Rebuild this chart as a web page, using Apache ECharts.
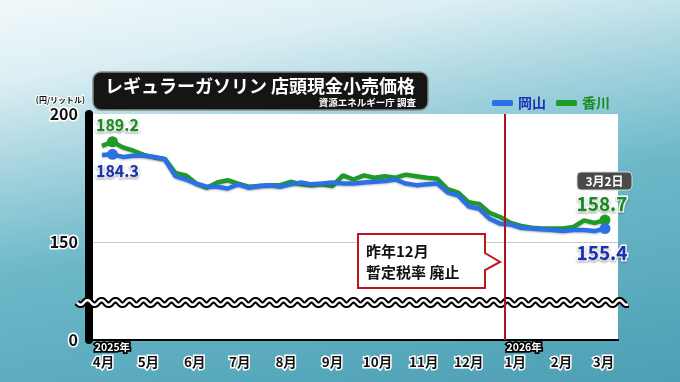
<!DOCTYPE html>
<html><head><meta charset="utf-8">
<script src="https://cdn.jsdelivr.net/npm/echarts@6/dist/echarts.min.js"></script>
<style>
html,body{margin:0;padding:0;}
#c{width:680px;height:382px;background:linear-gradient(170deg,#f1f8fa 0%,#dceff4 16%,#a6d4df 34%,#6cb8c9 55%,#4d9fb4 100%);}
</style></head><body><div id="c"></div>
<script>
const FONT = '"Noto Sans CJK JP","Noto Sans",sans-serif';

// weekly survey dates (資源エネルギー庁)
const weekDates = ['2025-03-31','2025-04-07','2025-04-14','2025-04-21','2025-04-28','2025-05-05','2025-05-12','2025-05-19','2025-05-26',
 '2025-06-02','2025-06-09','2025-06-16','2025-06-23','2025-06-30','2025-07-07','2025-07-14','2025-07-21','2025-07-28',
 '2025-08-04','2025-08-11','2025-08-18','2025-08-25','2025-09-01','2025-09-08','2025-09-15','2025-09-22','2025-09-29',
 '2025-10-06','2025-10-13','2025-10-20','2025-10-27','2025-11-03','2025-11-10','2025-11-17','2025-11-24',
 '2025-12-01','2025-12-08','2025-12-15','2025-12-22','2025-12-29','2026-01-05','2026-01-12','2026-01-19','2026-01-26',
 '2026-02-02','2026-02-09','2026-02-16','2026-02-23','2026-03-02'];
// 岡山 (yen / litre)
const okayama = [184.0,184.3,183.3,183.7,183.7,183.3,182.4,175.8,174.5,
 172.9,171.7,171.7,171.0,172.6,171.3,172.0,172.3,171.7,
 172.6,173.3,172.6,172.9,173.3,172.9,172.9,173.3,173.6,
 173.9,174.5,172.9,172.3,172.6,172.9,169.4,168.2,
 164.0,163.1,159.2,157.3,157.0,155.7,155.4,155.1,154.8,
 154.4,154.8,154.8,154.4,155.4];
// 香川 (yen / litre)
const kagawa = [187.6,189.2,187.0,185.7,184.1,183.1,182.5,177.1,176.1,
 172.9,171.3,173.3,174.2,172.9,171.7,172.0,172.3,172.3,
 173.6,172.6,172.3,172.6,172.0,176.1,174.5,176.1,175.2,
 175.8,175.2,176.4,175.8,175.2,174.8,170.7,169.4,
 165.6,165.0,161.5,159.9,157.6,156.4,155.7,155.4,155.4,
 155.4,156.0,158.6,157.6,158.7];
const seriesNames = ['岡山','香川'];
const labeledIdx = [1, 48];           // points marked with a dot and value
const monthStarts = ['2025-04-01','2025-05-01','2025-06-01','2025-07-01','2025-08-01','2025-09-01','2025-10-01','2025-11-01','2025-12-01','2026-01-01','2026-02-01','2026-03-01'];
const monthLabels = ['4月','5月','6月','7月','8月','9月','10月','11月','12月','1月','2月','3月'];
const yearLabels = [['2025-04-01','2025年'],['2026-01-01','2026年']];
const yTicks = [150, 200];
const yFloor = 112;                    // bottom of broken axis, labelled 0
const abolitionDate = '2025-12-25';
const calloutLines = ['昨年12月','暫定税率 廃止'];
const latestLabel = '3月2日';
const titleText = 'レギュラーガソリン 店頭現金小売価格';
const sourceText = '資源エネルギー庁 調査';
const unitText = '(円/リットル)';

const base = Date.UTC(2025,2,31);
function dayOf(s){const p=s.split('-').map(Number);return (Date.UTC(p[0],p[1]-1,p[2])-base)/86400000;}
const monthOffsets = monthStarts.map(dayOf);

const BLUE='#2c70e6', GREEN='#1f9a27', BLUE_T='#1c30b8', GREEN_T='#1a8c1f';

function build(vals, color, tcolor, pos){
  return vals.map((v,i)=>{
    const it={value:[dayOf(weekDates[i]), v]};
    const k=labeledIdx.indexOf(i);
    if(k>=0){
      it.symbol='circle'; it.symbolSize=11;
      it.label={show:true, position:pos, distance:k===0?3:(pos==='top'?1:9),
        offset:k===0?[5,0]:[-3,0],
        formatter:p=>p.value[1].toFixed(1),
        color:tcolor, fontFamily:FONT, fontWeight:'bold', fontSize:k===0?16:19,
        textBorderColor:'#fff', textBorderWidth:3,
        textShadowColor:'rgba(0,0,0,0.3)', textShadowBlur:2, textShadowOffsetY:1};
    }
    return it;
  });
}

const chart = echarts.init(document.getElementById('c'), null, {renderer:'canvas'});
const txt = {fontFamily:FONT, fontWeight:'bold'};

const wave=[];
for(let x=77;x<=628;x+=1){wave.push([x,302.5+2.4*Math.sin((x-77)/14*2*Math.PI)]);}

chart.setOption({
  backgroundColor:'transparent',
  animation:false,
  grid:{left:93,right:62,top:114,bottom:42,show:true,backgroundColor:'#fff',borderWidth:0},
  legend:{top:91,left:487,itemWidth:21,itemHeight:6,itemGap:10,icon:'roundRect',
    data:[{name:seriesNames[0],textStyle:{color:BLUE_T}},{name:seriesNames[1],textStyle:{color:GREEN_T}}],
    textStyle:Object.assign({fontSize:14},txt)},
  xAxis:{type:'value',min:-6,max:344.7,
    axisLine:{show:true,onZero:false,lineStyle:{color:'#000',width:2}},
    axisTick:{show:false},splitLine:{show:false},
    axisLabel:{customValues:monthOffsets,margin:15,
      formatter:v=>monthLabels[monthOffsets.indexOf(v)]||'',
      color:'#111',fontSize:13.5,fontFamily:FONT,fontWeight:'bold',textBorderColor:'#fff',textBorderWidth:3}},
  yAxis:{type:'value',min:yFloor,max:200,offset:4,
    name:unitText,nameLocation:'end',nameGap:14,
    nameTextStyle:{align:'right',verticalAlign:'middle',padding:[0,4,0,0],fontSize:8,color:'#111',fontFamily:FONT,fontWeight:'bold',textBorderColor:'#fff',textBorderWidth:2},
    axisLine:{show:true,onZero:false,lineStyle:{color:'#000',width:8,cap:'round'}},
    axisTick:{show:false},splitLine:{show:false},
    axisLabel:{customValues:[yFloor].concat(yTicks),margin:11,
      formatter:v=>v===yFloor?'0':String(v),
      color:'#111',fontSize:16,fontFamily:FONT,fontWeight:'bold',textBorderColor:'#fff',textBorderWidth:3}},
  series:[
    {name:seriesNames[1],type:'line',z:3,symbol:'none',showSymbol:true,
     color:GREEN,itemStyle:{color:GREEN},
     lineStyle:{width:4.5,color:GREEN,shadowColor:'rgba(0,0,0,0.25)',shadowBlur:2,shadowOffsetY:1},
     data:build(kagawa,GREEN,GREEN_T,'top'),
     markLine:{silent:true,symbol:'none',label:{show:false},
       lineStyle:{color:'#c9c9c9',width:1,type:'solid'},data:[{yAxis:150}]}},
    {name:seriesNames[0],type:'line',z:4,symbol:'none',showSymbol:true,
     color:BLUE,itemStyle:{color:BLUE},
     lineStyle:{width:4.5,color:BLUE,shadowColor:'rgba(0,0,0,0.25)',shadowBlur:2,shadowOffsetY:1},
     data:build(okayama,BLUE,BLUE_T,'bottom'),
     markLine:{silent:true,symbol:'none',label:{show:false},
       lineStyle:{color:'#b3121c',width:2,type:'solid'},data:[{xAxis:dayOf(abolitionDate)}]}}
  ]
});

const yl = yearLabels.map(([d,t])=>{
  const p = chart.convertToPixel({gridIndex:0},[dayOf(d),yFloor]);
  return {type:'text',z:20,style:{text:t,x:p[0]+9,y:347.5,align:'center',verticalAlign:'middle',
    font:'bold 10.5px '+FONT,fill:'#fff',stroke:'#000',lineWidth:3.5,strokeFirst:true}};
});

chart.setOption({graphic:[
  {type:'polyline',z:1,silent:true,shape:{points:wave},style:{stroke:'#000',lineWidth:6.5,fill:null}},
  {type:'polyline',z:1,silent:true,shape:{points:wave},style:{stroke:'#fff',lineWidth:2.5,fill:null}},
  {type:'rect',z:20,shape:{x:93,y:72,width:335,height:38,r:8},style:{fill:'#151515',stroke:'#8a8a8a',lineWidth:1.5}},
  {type:'text',z:21,style:{text:titleText,x:260,y:86,align:'center',verticalAlign:'middle',font:'bold 18px '+FONT,fill:'#fff'}},
  {type:'text',z:21,style:{text:sourceText,x:416,y:102,align:'right',verticalAlign:'middle',font:'bold 9.5px '+FONT,fill:'#fff'}},
  {type:'polygon',z:20,shape:{points:[[358,234],[485,234],[485,253],[500,262],[485,270],[485,288],[358,288]]},
    style:{fill:'#fff',stroke:'#c0141e',lineWidth:2}},
  {type:'text',z:21,style:{text:calloutLines[0],x:366,y:251,align:'left',verticalAlign:'middle',font:'bold 15px '+FONT,fill:'#111'}},
  {type:'text',z:21,style:{text:calloutLines[1],x:366,y:272,align:'left',verticalAlign:'middle',font:'bold 15px '+FONT,fill:'#111'}},
  {type:'rect',z:20,shape:{x:577,y:172,width:55,height:18,r:4},style:{fill:'#4a4a4a',stroke:'#d8d8d8',lineWidth:1}},
  {type:'text',z:21,style:{text:latestLabel,x:604.5,y:181,align:'center',verticalAlign:'middle',font:'bold 12px '+FONT,fill:'#fff'}}
].concat(yl)});
</script></body></html>
